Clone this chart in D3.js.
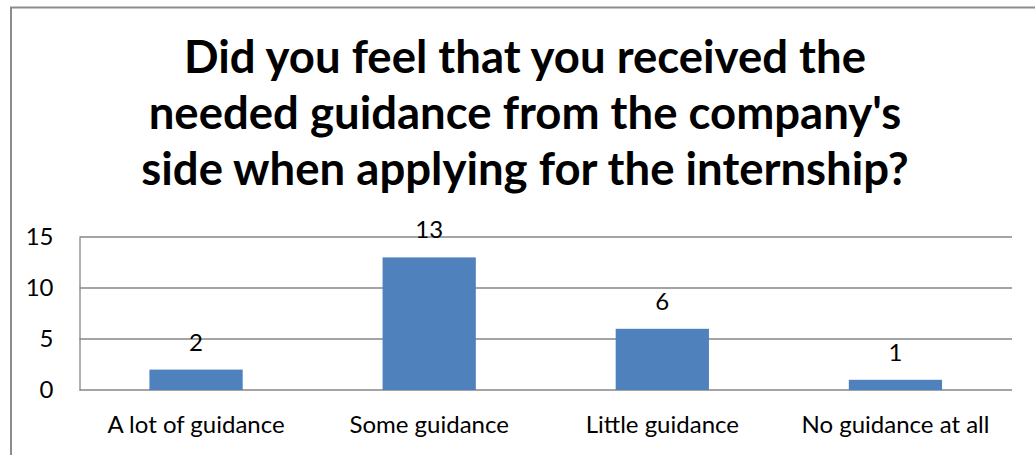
<!DOCTYPE html>
<html>
<head>
<meta charset="utf-8">
<script src="https://cdn.jsdelivr.net/npm/d3@7"></script>
<style>
  html, body { margin: 0; padding: 0; background: #fff; }
  svg { display: block; }
</style>
</head>
<body>
<svg id="chart" width="1035" height="455"></svg>
<script>
// Survey responses
const categories = ["A lot of guidance", "Some guidance", "Little guidance", "No guidance at all"];
const counts = [2, 13, 6, 1];
const yTicks = [0, 5, 10, 15];
const titleLines = [
  "Did you feel that you received the",
  "needed guidance from the company's",
  "side when applying for the internship?"
];

const W = 1035, H = 455;
const plot = { left: 79.5, right: 1012, top: 237, bottom: 390 };
const font = "Lato, 'Open Sans', sans-serif";
const labelSize = 24;

const svg = d3.select("#chart");

// Chart frame
svg.append("rect")
  .attr("x", 11).attr("y", 7.5)
  .attr("width", W + 20).attr("height", H + 20)
  .attr("fill", "#fff")
  .attr("stroke", "#8c8c8c").attr("stroke-width", 2);

// Title
const title = svg.append("text")
  .attr("text-anchor", "middle")
  .attr("font-family", font)
  .attr("font-weight", "bold")
  .attr("font-size", 45.5)
  .attr("fill", "#000");
titleLines.forEach((line, i) => {
  title.append("tspan")
    .attr("x", 525)
    .attr("y", 73 + i * 56)
    .text(line);
});

const x = d3.scaleBand()
  .domain(categories)
  .range([plot.left, plot.right])
  .paddingInner(0.6)
  .paddingOuter(0.3);

const y = d3.scaleLinear()
  .domain([0, 15])
  .range([plot.bottom, plot.top]);

// Horizontal gridlines
svg.append("g")
  .selectAll("line")
  .data(yTicks)
  .join("line")
  .attr("x1", plot.left).attr("x2", plot.right)
  .attr("y1", d => y(d)).attr("y2", d => y(d))
  .attr("stroke", "#868686").attr("stroke-width", 1.3);

// Value axis
const yAxis = svg.append("g")
  .attr("transform", `translate(${plot.left},0)`)
  .call(d3.axisLeft(y).tickValues(yTicks).tickSize(0).tickPadding(26));
yAxis.select(".domain").attr("stroke", "#868686").attr("stroke-width", 1.3);
yAxis.selectAll("text")
  .attr("font-family", font)
  .attr("font-size", labelSize)
  .attr("fill", "#000");

// Bars
svg.append("g")
  .selectAll("rect")
  .data(categories)
  .join("rect")
  .attr("x", d => x(d))
  .attr("width", x.bandwidth())
  .attr("y", (d, i) => y(counts[i]))
  .attr("height", (d, i) => y(0) - y(counts[i]))
  .attr("fill", "#4f81bd");

// Value labels
svg.append("g")
  .selectAll("text")
  .data(categories)
  .join("text")
  .attr("x", d => x(d) + x.bandwidth() / 2)
  .attr("y", (d, i) => y(counts[i]) - 19)
  .attr("text-anchor", "middle")
  .attr("font-family", font)
  .attr("font-size", labelSize)
  .attr("fill", "#000")
  .text((d, i) => counts[i]);

// Category axis
const xAxis = svg.append("g")
  .attr("transform", `translate(0,${plot.bottom})`)
  .call(d3.axisBottom(x).tickSize(0).tickPadding(26));
xAxis.select(".domain").remove();
xAxis.selectAll("text")
  .attr("font-family", font)
  .attr("font-size", labelSize)
  .attr("fill", "#000");
</script>
</body>
</html>
